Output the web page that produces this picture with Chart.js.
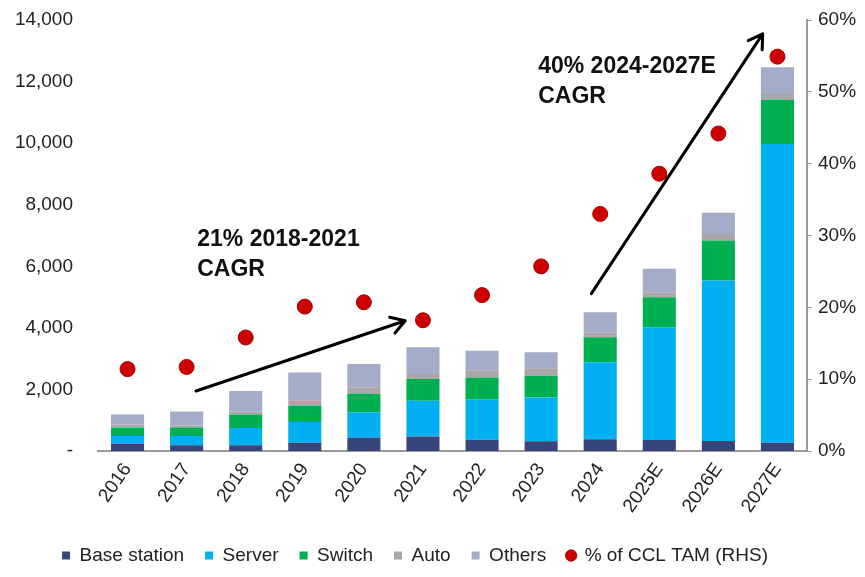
<!DOCTYPE html>
<html>
<head>
<meta charset="utf-8">
<script src="https://cdn.jsdelivr.net/npm/chart.js@4.4.1/dist/chart.umd.min.js"></script>
<style>
  html, body { margin: 0; padding: 0; background: #fff; }
  #wrap { width: 865px; height: 577px; }
</style>
</head>
<body>
<div id="wrap"><canvas id="tamChart" width="865" height="577"></canvas></div>
<script>
const years = ["2016", "2017", "2018", "2019", "2020", "2021", "2022", "2023", "2024", "2025E", "2026E", "2027E"];

// stacked segments, US$m
const baseStation = [230, 185, 185, 270, 430, 470, 365, 320, 380, 360, 325, 270];
const server      = [260, 300, 565, 675, 825, 1160, 1320, 1420, 2500, 3660, 5210, 9700];
const switches    = [260, 280, 435, 520, 600, 705, 705, 705, 815, 975, 1300, 1430];
const auto        = [110, 65, 90, 185, 215, 165, 215, 240, 165, 165, 215, 195];
const others      = [325, 455, 675, 900, 760, 870, 650, 520, 650, 760, 685, 870];

// % of CCL TAM, right axis
const tamShare = [11.4, 11.7, 15.8, 20.1, 20.7, 18.2, 21.7, 25.7, 33.0, 38.6, 44.2, 54.9];

const leftTicks = [0, 2000, 4000, 6000, 8000, 10000, 12000, 14000];
const rightTicks = [0, 10, 20, 30, 40, 50, 60];

const FONT = "'Liberation Sans', Arial, sans-serif";

// CAGR call-outs, in [category index, left-axis value]
const cagrArrows = [
  { from: [1.16, 1950], to: [4.70, 4230] },
  { from: [7.85, 5110], to: [10.75, 13550] }
];
const cagrNotes = [
  { at: [1.18, 7250], lines: ["21% 2018-2021", "CAGR"] },
  { at: [6.95, 12870], lines: ["40% 2024-2027E", "CAGR"] }
];

const calloutPlugin = {
  id: "callouts",
  afterLayout(chart) {
    // nudge the legend left so it sits under the bars rather than the whole canvas
    chart.legend.left -= 24;
    chart.legend.right -= 24;
  },
  afterDatasetsDraw(chart) {
    const { ctx, scales: { x, y } } = chart;
    const px = (p) => [x.getPixelForValue(p[0]), y.getPixelForValue(p[1])];
    ctx.save();
    ctx.strokeStyle = "#000";
    ctx.lineWidth = 3;
    ctx.lineCap = "round";
    ctx.lineJoin = "round";
    cagrArrows.forEach((a) => {
      const [x0, y0] = px(a.from);
      const [x1, y1] = px(a.to);
      const ang = Math.atan2(y1 - y0, x1 - x0);
      const head = 16;
      ctx.beginPath();
      ctx.moveTo(x0, y0);
      ctx.lineTo(x1, y1);
      ctx.moveTo(x1 - head * Math.cos(ang - 0.55), y1 - head * Math.sin(ang - 0.55));
      ctx.lineTo(x1, y1);
      ctx.lineTo(x1 - head * Math.cos(ang + 0.55), y1 - head * Math.sin(ang + 0.55));
      ctx.stroke();
    });
    ctx.fillStyle = "#111";
    ctx.font = "bold 23px " + FONT;
    ctx.textBaseline = "top";
    ctx.textAlign = "left";
    cagrNotes.forEach((n) => {
      const [tx, ty] = px(n.at);
      n.lines.forEach((line, i) => ctx.fillText(line, tx, ty + i * 30));
    });
    ctx.restore();
  }
};

const barSet = (label, data, color) => ({
  label,
  data,
  backgroundColor: color,
  borderWidth: 0,
  stack: "tam",
  yAxisID: "y",
  barPercentage: 0.56,
  categoryPercentage: 1.0,
  pointStyle: "rect"
});

const data = {
  labels: years,
  datasets: [
    barSet("Base station", baseStation, "#37467a"),
    barSet("Server", server, "#00b0f0"),
    barSet("Switch", switches, "#00b050"),
    barSet("Auto", auto, "#aba6ab"),
    barSet("Others", others, "#a3adca"),
    {
      type: "line",
      label: "% of CCL TAM (RHS)",
      data: tamShare,
      yAxisID: "y1",
      showLine: false,
      pointRadius: 7.5,
      pointHoverRadius: 7.5,
      pointBackgroundColor: "#cc0000",
      pointBorderColor: "#a30000",
      pointBorderWidth: 1,
      backgroundColor: "#cc0000",
      borderColor: "#cc0000",
      pointStyle: "circle",
      order: -1
    }
  ]
};

const tickFont = { family: FONT, size: 19 };

const config = {
  type: "bar",
  data,
  plugins: [calloutPlugin],
  options: {
    responsive: false,
    animation: false,
    layout: { autoPadding: false, padding: { top: 20, left: 13, right: 0, bottom: 2 } },
    plugins: {
      tooltip: { enabled: false },
      legend: {
        position: "bottom",
        labels: {
          usePointStyle: true,
          boxWidth: 8,
          boxHeight: 8,
          padding: 21,
          color: "#222",
          font: { family: FONT, size: 19 },
          sort: (a, b) => a.datasetIndex - b.datasetIndex
        }
      }
    },
    scales: {
      x: {
        stacked: true,
        grid: { display: false, drawTicks: false },
        border: { display: true, color: "#9a9a9a", width: 2 },
        ticks: {
          color: "#222",
          font: tickFont,
          maxRotation: 55,
          minRotation: 55,
          padding: 8
        },
        afterFit: (scale) => { scale.height = 74; scale.paddingLeft = 0; scale.paddingRight = 0; }
      },
      y: {
        stacked: true,
        min: 0,
        max: 14000,
        afterBuildTicks: (scale) => { scale.ticks = leftTicks.map((v) => ({ value: v })); },
        grid: { display: false, drawTicks: false },
        border: { display: false },
        ticks: {
          color: "#222",
          font: tickFont,
          padding: 25,
          callback: (v) => (v === 0 ? "-" : v.toLocaleString("en-US"))
        },
        afterFit: (scale) => { scale.width = 85; scale.paddingTop = 0; scale.paddingBottom = 0; }
      },
      y1: {
        position: "right",
        stacked: false,
        min: 0,
        max: 60,
        afterBuildTicks: (scale) => { scale.ticks = rightTicks.map((v) => ({ value: v })); },
        grid: { drawOnChartArea: false, drawTicks: true, tickLength: 5, color: "#9a9a9a" },
        border: { display: true, color: "#9a9a9a", width: 2 },
        ticks: {
          color: "#222",
          font: tickFont,
          padding: 6,
          callback: (v) => v + "%"
        },
        afterFit: (scale) => { scale.width = 58; scale.paddingTop = 0; scale.paddingBottom = 0; }
      }
    }
  }
};

new Chart(document.getElementById("tamChart").getContext("2d"), config);
</script>
</body>
</html>
